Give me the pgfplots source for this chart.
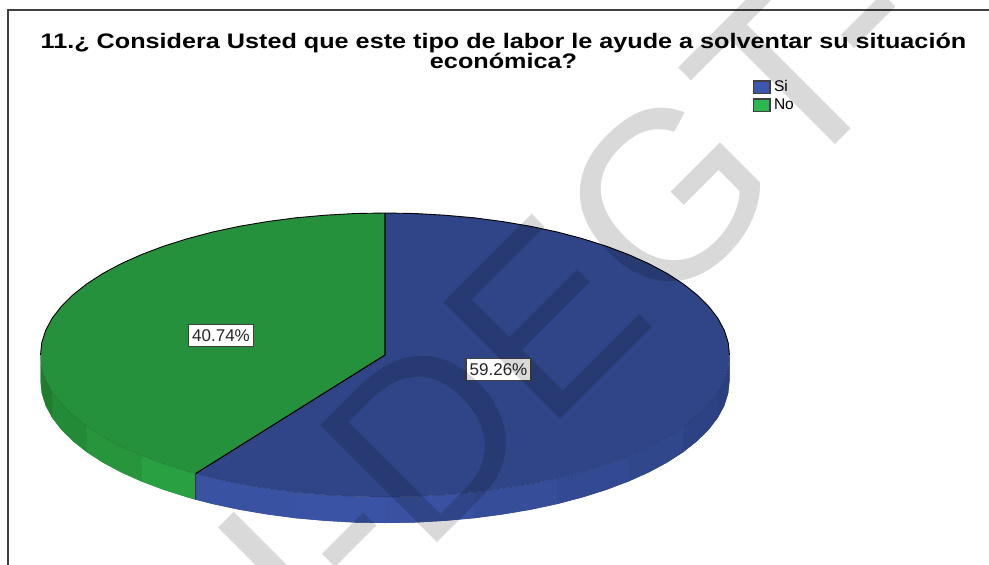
\documentclass[border=0pt]{standalone}
\usepackage{graphicx}
\usepackage{fontspec}
\setmainfont{Liberation Sans}
\usepackage{pgfplots}
\pgfplotsset{compat=1.18}
\definecolor{topblue}{HTML}{2F4587}
\definecolor{topgreen}{HTML}{26913D}
\definecolor{legblue}{HTML}{3B57B0}
\definecolor{leggreen}{HTML}{2CB84F}
\definecolor{frameg}{HTML}{404040}
\definecolor{ba}{HTML}{2B3F80}
\definecolor{bb}{HTML}{2D4284}
\definecolor{bc}{HTML}{30478C}
\definecolor{bd}{HTML}{334A93}
\definecolor{be}{HTML}{364E9A}
\definecolor{bf}{HTML}{3951A0}
\definecolor{bg}{HTML}{3B53A4}
\definecolor{bh}{HTML}{3A52A2}
\definecolor{ga}{HTML}{29A041}
\definecolor{gb}{HTML}{26953C}
\definecolor{gc}{HTML}{238A37}
\definecolor{gd}{HTML}{1F7C31}
\newcommand{\band}[2]{\addplot[forget plot,fill=#1,draw=none] coordinates {#2};}
\begin{document}
\begin{tikzpicture}[x=1pt,y=1pt]
\path[use as bounding box] (0,0) rectangle (989pt,565pt);
\clip (0,0) rectangle (989pt,565pt);
\begin{axis}[at={(0,0)},anchor=south west,width=989pt,height=565pt,scale only axis,hide axis,
  xmin=0,xmax=989,ymin=0,ymax=565,y dir=reverse,clip=false,
  legend style={at={(axis cs:752.8,79.5)},anchor=north west,draw=none,fill=none,inner sep=0pt,outer sep=0pt,
    font=\fontsize{15.5}{15.5}\selectfont,row sep=3.4pt,nodes={inner ysep=1.2pt,inner xsep=3.4pt},cells={anchor=west}},
  legend cell align=left,
  legend image code/.code={\draw[#1,line width=1.3pt] (0pt,-6.2pt) rectangle (16.5pt,6.2pt);},
  ]
% underlay of the side
\addplot[forget plot,fill=bd,draw=none] coordinates {(729.5,355)(728.2,367.4)(724.3,379.7)(717.8,391.8)(708.7,403.6)(697.2,415)(683.4,426)(667.2,436.5)(648.9,446.3)(628.6,455.4)(606.4,463.8)(582.6,471.3)(557.3,478)(530.6,483.7)(502.8,488.4)(474.2,492.2)(444.8,494.8)(415,496.5)(385,497)(355,496.5)(325.2,494.8)(295.8,492.2)(267.2,488.4)(239.4,483.7)(212.7,478)(195.6,473.6)(195.6,499.6)(212.7,504)(239.4,509.7)(267.2,514.4)(295.8,518.2)(325.2,520.8)(355,522.5)(385,523)(415,522.5)(444.8,520.8)(474.2,518.2)(502.8,514.4)(530.6,509.7)(557.3,504)(582.6,497.3)(606.4,489.8)(628.6,481.4)(648.9,472.3)(667.2,462.5)(683.4,452)(697.2,441)(708.7,429.6)(717.8,417.8)(724.3,405.7)(728.2,393.4)(729.5,381)};
\addplot[forget plot,fill=gb,draw=none] coordinates {(195.6,473.6)(187.4,471.3)(163.6,463.8)(141.4,455.4)(121.1,446.3)(102.8,436.5)(86.6,426)(72.8,415)(61.3,403.6)(52.2,391.8)(45.7,379.7)(41.8,367.4)(40.5,355)(40.5,381)(41.8,393.4)(45.7,405.7)(52.2,417.8)(61.3,429.6)(72.8,441)(86.6,452)(102.8,462.5)(121.1,472.3)(141.4,481.4)(163.6,489.8)(187.4,497.3)(195.6,499.6)};
% side of the pie: blue
\band{ba}{(729.5,355)(728.2,367.4)(724.3,379.7)(717.8,391.8)(717.8,417.8)(724.3,405.7)(728.2,393.4)(729.5,381)}
\band{bb}{(717.8,391.8)(708.7,403.6)(697.2,415)(683.4,426)(683.4,452)(697.2,441)(708.7,429.6)(717.8,417.8)}
\band{bc}{(683.4,426)(667.2,436.5)(648.9,446.3)(628.6,455.4)(628.6,481.4)(648.9,472.3)(667.2,462.5)(683.4,452)}
\band{bd}{(628.6,455.4)(606.4,463.8)(582.6,471.3)(557.3,478)(557.3,504)(582.6,497.3)(606.4,489.8)(628.6,481.4)}
\band{be}{(557.3,478)(530.6,483.7)(502.8,488.4)(474.2,492.2)(474.2,518.2)(502.8,514.4)(530.6,509.7)(557.3,504)}
\band{bf}{(474.2,492.2)(444.8,494.8)(415,496.5)(385,497)(385,523)(415,522.5)(444.8,520.8)(474.2,518.2)}
\band{bg}{(385,497)(355,496.5)(325.2,494.8)(295.8,492.2)(295.8,518.2)(325.2,520.8)(355,522.5)(385,523)}
\band{bh}{(295.8,492.2)(267.2,488.4)(239.4,483.7)(212.7,478)(195.6,473.6)(195.6,499.6)(212.7,504)(239.4,509.7)(267.2,514.4)(295.8,518.2)}
% side of the pie: green
\band{ga}{(195.6,473.6)(187.4,471.3)(163.6,463.8)(141.4,455.4)(141.4,481.4)(163.6,489.8)(187.4,497.3)(195.6,499.6)}
\band{gb}{(141.4,455.4)(121.1,446.3)(102.8,436.5)(86.6,426)(86.6,452)(102.8,462.5)(121.1,472.3)(141.4,481.4)}
\band{gc}{(86.6,426)(72.8,415)(61.3,403.6)(52.2,391.8)(52.2,417.8)(61.3,429.6)(72.8,441)(86.6,452)}
\band{gd}{(52.2,391.8)(45.7,379.7)(41.8,367.4)(40.5,355)(40.5,381)(41.8,393.4)(45.7,405.7)(52.2,417.8)}
% top: Si 59.26
\addplot[forget plot,fill=topblue,draw=none] coordinates {(385,355)(385,213)(415,213.5)(444.8,215.2)(474.2,217.8)(502.8,221.6)(530.6,226.3)(557.3,232)(582.6,238.7)(606.4,246.2)(628.6,254.6)(648.9,263.7)(667.2,273.5)(683.4,284)(697.2,295)(708.7,306.4)(717.8,318.2)(724.3,330.3)(728.2,342.6)(729.5,355)(728.2,367.4)(724.3,379.7)(717.8,391.8)(708.7,403.6)(697.2,415)(683.4,426)(667.2,436.5)(648.9,446.3)(628.6,455.4)(606.4,463.8)(582.6,471.3)(557.3,478)(530.6,483.7)(502.8,488.4)(474.2,492.2)(444.8,494.8)(415,496.5)(385,497)(355,496.5)(325.2,494.8)(295.8,492.2)(267.2,488.4)(239.4,483.7)(212.7,478)(195.6,473.6)};
% top: No 40.74
\addplot[forget plot,fill=topgreen,draw=none] coordinates {(385,355)(195.6,473.6)(187.4,471.3)(163.6,463.8)(141.4,455.4)(121.1,446.3)(102.8,436.5)(86.6,426)(72.8,415)(61.3,403.6)(52.2,391.8)(45.7,379.7)(41.8,367.4)(40.5,355)(41.8,342.6)(45.7,330.3)(52.2,318.2)(61.3,306.4)(72.8,295)(86.6,284)(102.8,273.5)(121.1,263.7)(141.4,254.6)(163.6,246.2)(187.4,238.7)(212.7,232)(239.4,226.3)(267.2,221.6)(295.8,217.8)(325.2,215.2)(355,213.5)(385,213)};
% outlines
\addplot[forget plot,black,line width=0.9pt] coordinates {(40.5,355)(41.8,342.6)(45.7,330.3)(52.2,318.2)(61.3,306.4)(72.8,295)(86.6,284)(102.8,273.5)(121.1,263.7)(141.4,254.6)(163.6,246.2)(187.4,238.7)(212.7,232)(239.4,226.3)(267.2,221.6)(295.8,217.8)(325.2,215.2)(355,213.5)(385,213)(415,213.5)(444.8,215.2)(474.2,217.8)(502.8,221.6)(530.6,226.3)(557.3,232)(582.6,238.7)(606.4,246.2)(628.6,254.6)(648.9,263.7)(667.2,273.5)(683.4,284)(697.2,295)(708.7,306.4)(717.8,318.2)(724.3,330.3)(728.2,342.6)(729.5,355)};
\addplot[forget plot,black,line width=1.1pt] coordinates {(385,213)(385,355)(195.6,473.6)};
\addplot[forget plot,black!80,line width=1pt] coordinates {(195.6,473.6)(195.6,499.6)};
\addplot[forget plot,black,opacity=.18,line width=0.5pt] coordinates {(40.5,355)(41.8,367.4)(45.7,379.7)(52.2,391.8)(61.3,403.6)(72.8,415)(86.6,426)(102.8,436.5)(121.1,446.3)(141.4,455.4)(163.6,463.8)(187.4,471.3)(195.6,473.6)(212.7,478)(239.4,483.7)(267.2,488.4)(295.8,492.2)(325.2,494.8)(355,496.5)(385,497)(415,496.5)(444.8,494.8)(474.2,492.2)(502.8,488.4)(530.6,483.7)(557.3,478)(582.6,471.3)(606.4,463.8)(628.6,455.4)(648.9,446.3)(667.2,436.5)(683.4,426)(697.2,415)(708.7,403.6)(717.8,391.8)(724.3,379.7)(728.2,367.4)(729.5,355)};
% frame
\addplot[forget plot,frameg,line width=1.2pt] coordinates {(8,565)(8,10)(989,10)};
% legend
\addlegendimage{fill=legblue,draw=black!75}
\addlegendentry{Si}
\addlegendimage{fill=leggreen,draw=black!75}
\addlegendentry{No}
% value labels
\node[draw=black!75,fill=white,line width=1.1pt,minimum width=65pt,minimum height=22pt,inner sep=0pt,font=\fontsize{17}{17}\selectfont,text=black!85] at (axis cs:221,335.5) {40.74\%};
\node[draw=black!75,fill=white,line width=1.1pt,minimum width=65pt,minimum height=22pt,inner sep=0pt,font=\fontsize{17}{17}\selectfont,text=black!85] at (axis cs:498.5,369.5) {59.26\%};
% title
\node[anchor=base,inner sep=0pt,font=\fontsize{21}{21}\bfseries\selectfont] at (axis cs:503.5,48) {\scalebox{1.2}[1]{11.¿ Considera Usted que este tipo de labor le ayude a solventar su situación}};
\node[anchor=base,inner sep=0pt,font=\fontsize{21}{21}\bfseries\selectfont] at (axis cs:503.5,68) {\scalebox{1.2}[1]{económica?}};
% watermark
\node[anchor=base west,inner sep=0pt,outer sep=0pt,rotate=45,text=black,text opacity=.15,font=\fontsize{240}{240}\selectfont] at (axis cs:319.8,660.2) {I-DEGT-};
\end{axis}
\end{tikzpicture}
\end{document}
